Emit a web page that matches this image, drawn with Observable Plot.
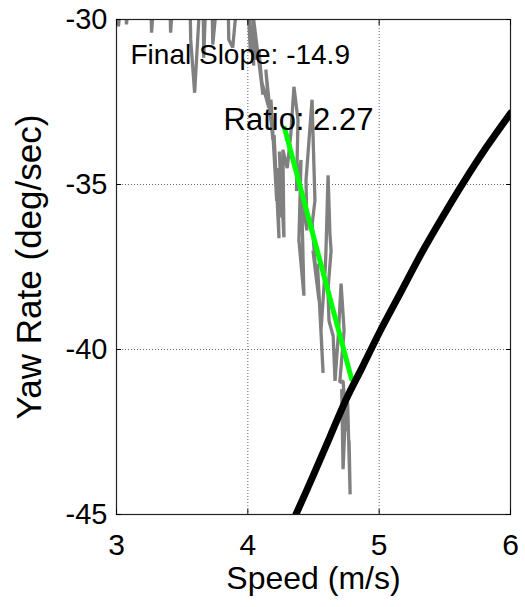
<!DOCTYPE html>
<html>
<head>
<meta charset="utf-8">
<script src="https://cdn.jsdelivr.net/npm/d3@7"></script>
<script src="https://cdn.jsdelivr.net/npm/@observablehq/plot@0.6"></script>
<style>
  html, body { margin: 0; padding: 0; background: #fff; }
  #chart svg { display: block; }
</style>
</head>
<body>
<div id="chart"></div>
<script>
// ---- Data ----
const xTicks = [3, 4, 5, 6];
const yTicks = [-45, -40, -35, -30];
const xLabel = "Speed (m/s)";
const yLabel = "Yaw Rate (deg/sec)";
const slopeText = "Final Slope: -14.9";
const ratioText = "Ratio: 2.27";

// Measured (noisy) trace: speed / yaw rate
const measSpeed = [3.000, 3.015, 3.031, 3.070, 3.076, 3.092, 3.262, 3.267, 3.282, 3.407, 3.412, 3.427,
  3.560, 3.565, 3.595, 3.618, 3.634, 3.660, 3.664, 3.679, 3.728, 3.733, 3.763, 3.850, 3.855, 3.885, 3.916,
  4.000, 4.020, 4.010, 4.045, 4.030, 4.061, 4.038, 4.115,
  4.084, 4.100, 4.160, 4.137, 4.191,
  4.176, 4.220, 4.200, 4.237, 4.225, 4.260, 4.240, 4.275, 4.267, 4.300, 4.328, 4.351, 4.382, 4.370, 4.405,
  4.389, 4.427, 4.410, 4.450, 4.443, 4.489, 4.500, 4.511, 4.490, 4.520, 4.496, 4.542, 4.530, 4.573, 4.557,
  4.590, 4.595, 4.611, 4.625, 4.634, 4.610, 4.618, 4.650, 4.664, 4.690, 4.710, 4.733, 4.700, 4.725, 4.748,
  4.715, 4.725, 4.745, 4.763, 4.760, 4.779, 4.771];
const measYaw = [-29.50, -30.21, -29.50, -29.50, -30.15, -29.50, -29.50, -30.40, -29.50, -29.50, -30.40, -29.50,
  -29.50, -30.61, -32.22, -30.61, -29.50, -29.50, -31.16, -29.50, -29.50, -30.76, -29.50, -29.50, -30.61, -30.85, -29.50,
  -29.50, -31.00, -29.80, -31.40, -30.20, -31.22, -29.80, -32.28,
  -30.91, -31.80, -32.68, -31.52, -33.65,
  -32.43, -35.50, -33.50, -36.63, -34.50, -36.00, -34.00, -36.60, -33.95, -34.50, -33.44, -32.04, -33.04, -35.20, -34.26,
  -36.69, -38.37, -35.40, -36.39, -34.87, -32.43, -34.00, -35.48, -36.20, -37.80, -37.00, -38.52, -37.40, -40.71, -39.43,
  -37.50, -37.00, -34.72, -36.50, -37.00, -38.20, -39.13, -39.60, -40.95, -39.50, -38.00, -39.43, -41.00, -40.95, -42.17,
  -41.20, -43.63, -41.80, -42.47, -41.60, -44.39, -42.78];

// Final slope fit (green)
const fitSpeed = [4.28, 4.79];
const fitYaw = [-33.30, -40.90];

// Model curve (black)
const modelSpeed = [4.366, 4.50, 4.63, 4.75, 4.87, 5.00, 5.16, 5.32, 5.48, 5.64, 5.82, 6.00];
const modelYaw = [-45.0, -43.8, -42.6, -41.5, -40.55, -39.5, -38.3, -37.1, -36.0, -34.95, -33.85, -32.84];

// ---- Build tables ----
const meas = measSpeed.map((s, i) => ({speed: s, yaw: measYaw[i]}));
const fit = fitSpeed.map((s, i) => ({speed: s, yaw: fitYaw[i]}));
const model = modelSpeed.map((s, i) => ({speed: s, yaw: modelYaw[i]}));

const font = "'Liberation Sans', Arial, Helvetica, sans-serif";
const fmt = d => String(d);

const chart = Plot.plot({
  width: 525,
  height: 607,
  marginLeft: 116,
  marginRight: 15,
  marginTop: 19,
  marginBottom: 93,
  style: {fontFamily: font, fontSize: "29px", background: "#fff", color: "#000", overflow: "visible"},
  x: {domain: [3, 6]},
  y: {domain: [-45, -30]},
  marks: [
    Plot.gridX(xTicks, {stroke: "#666", strokeOpacity: 1, strokeDasharray: "1,2", strokeWidth: 1}),
    Plot.gridY(yTicks, {stroke: "#666", strokeOpacity: 1, strokeDasharray: "1,2", strokeWidth: 1}),
    Plot.line(meas, {x: "speed", y: "yaw", stroke: "#808080", strokeWidth: 3.3, clip: true, strokeLinejoin: "miter"}),
    Plot.line(fit, {x: "speed", y: "yaw", stroke: "#00ff00", strokeWidth: 5, clip: true}),
    Plot.line(model, {x: "speed", y: "yaw", stroke: "#000", strokeWidth: 7, clip: true, curve: "catmull-rom"}),
    Plot.frame({stroke: "#222", strokeWidth: 1.2}),
    Plot.axisX(xTicks, {anchor: "bottom", tickSize: -5, tickPadding: 24, label: null, fontSize: 30, tickFormat: fmt}),
    Plot.axisY(yTicks, {anchor: "left", tickSize: -5, tickPadding: 14, label: null, fontSize: 29, tickFormat: fmt}),
    Plot.axisX(xTicks, {anchor: "top", tickSize: -5, tickFormat: () => "", label: null}),
    Plot.axisY(yTicks, {anchor: "right", tickSize: -5, tickFormat: () => "", label: null}),
    Plot.text([xLabel], {frameAnchor: "bottom", dy: 74, lineAnchor: "bottom", fontSize: 32, fill: "#000"}),
    Plot.text([yLabel], {frameAnchor: "left", dx: -87, rotate: -90, textAnchor: "middle", lineAnchor: "middle", fontSize: 35, fill: "#000"}),
    Plot.text([slopeText], {frameAnchor: "top-left", dx: 14, dy: 25, textAnchor: "start", lineAnchor: "top", fontSize: 28, fill: "#000"}),
    Plot.text([ratioText], {frameAnchor: "top-left", dx: 107, dy: 88, textAnchor: "start", lineAnchor: "top", fontSize: 31, fill: "#000"})
  ]
});
document.getElementById("chart").appendChild(chart);
</script>
</body>
</html>
